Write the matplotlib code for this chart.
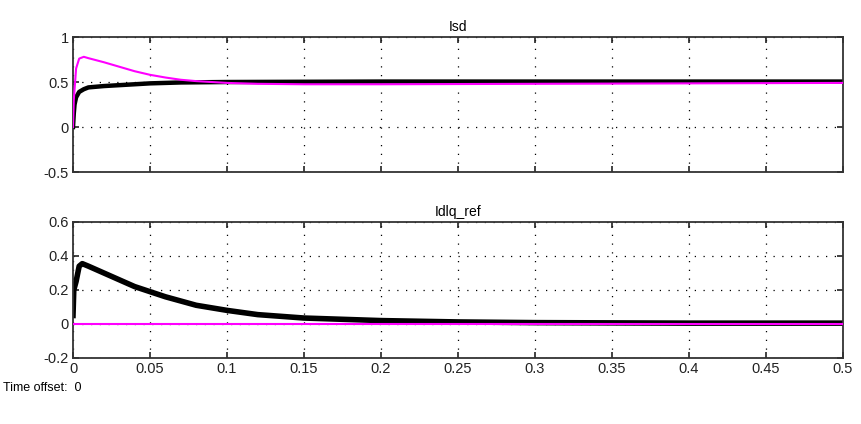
import numpy as np
import matplotlib
matplotlib.use('Agg')
import matplotlib.pyplot as plt
from matplotlib.ticker import FuncFormatter

plt.rcParams['font.family'] = ['Liberation Sans', 'DejaVu Sans']

# Isd scope trace
t_isd = [0, 0.0005, 0.001, 0.002, 0.004, 0.007, 0.01, 0.02, 0.03, 0.04,
         0.05, 0.07, 0.1, 0.2, 0.3, 0.4, 0.5]
isd_meas = [0.0, 0.15, 0.25, 0.33, 0.39, 0.42, 0.44, 0.455, 0.465, 0.475,
            0.485, 0.495, 0.5, 0.505, 0.505, 0.505, 0.505]
t_isd_ref = [0, 0.0005, 0.002, 0.004, 0.007, 0.01, 0.02, 0.03, 0.04, 0.05,
             0.06, 0.07, 0.08, 0.1, 0.12, 0.15, 0.2, 0.3, 0.4, 0.5]
isd_ref = [0.0, 0.3, 0.65, 0.76, 0.78, 0.765, 0.72, 0.67, 0.62, 0.58,
           0.55, 0.525, 0.51, 0.49, 0.48, 0.475, 0.475, 0.48, 0.485, 0.49]

# Idlq_ref scope trace
t_iq = [0, 0.0005, 0.002, 0.004, 0.006, 0.01, 0.02, 0.03, 0.04, 0.05, 0.06,
        0.07, 0.08, 0.1, 0.12, 0.15, 0.2, 0.25, 0.3, 0.4, 0.5]
iq_meas = [0.05, 0.2, 0.25, 0.34, 0.355, 0.34, 0.3, 0.26, 0.22, 0.19, 0.16,
           0.135, 0.11, 0.08, 0.055, 0.035, 0.02, 0.012, 0.008, 0.005, 0.005]
t_iq_ref = [0, 0.5]
iq_ref = [0.0, 0.0]

xticks = [0, 0.05, 0.1, 0.15, 0.2, 0.25, 0.3, 0.35, 0.4, 0.45, 0.5]


def fmt(v, pos):
    s = '%g' % round(v, 4)
    return s


fig = plt.figure(figsize=(8.61, 4.24), dpi=100)
ax1 = fig.add_axes([0.0848, 0.5943, 0.8943, 0.3184])
ax2 = fig.add_axes([0.0848, 0.1557, 0.8943, 0.3208])

for ax in (ax1, ax2):
    ax.set_xlim(0, 0.5)
    ax.set_xticks(xticks)
    ax.grid(True, color='black', linestyle=(0, (1, 6)), linewidth=0.9)
    ax.tick_params(direction='in', top=True, right=True, length=4,
                   width=1.2, labelsize=10.5, pad=3, colors='#222222')
    for sp in ax.spines.values():
        sp.set_linewidth(1.3)
        sp.set_color('#333333')
    ax.yaxis.set_major_formatter(FuncFormatter(fmt))
    ax.xaxis.set_major_formatter(FuncFormatter(fmt))

ax1.plot(t_isd_ref, isd_ref, color='#ff00ff', lw=1.5, zorder=3)
ax1.plot(t_isd, isd_meas, color='black', lw=3.2, zorder=2)
ax1.set_ylim(-0.5, 1)
ax1.set_yticks([-0.5, 0, 0.5, 1])
ax1.tick_params(labelbottom=False)
ax1.set_title('Isd', fontsize=10, pad=4)

ax2.plot(t_iq, iq_meas, color='black', lw=4, zorder=2)
ax2.plot(t_iq_ref, iq_ref, color='#ff00ff', lw=1.5, zorder=3)
ax2.set_ylim(-0.2, 0.6)
ax2.set_yticks([-0.2, 0, 0.2, 0.4, 0.6])
ax2.set_title('Idlq_ref', fontsize=10, pad=4)

fig.text(0.003, 0.085, 'Time offset:  0', fontsize=9, ha='left', va='center')

fig.savefig('out.png', dpi=100)
